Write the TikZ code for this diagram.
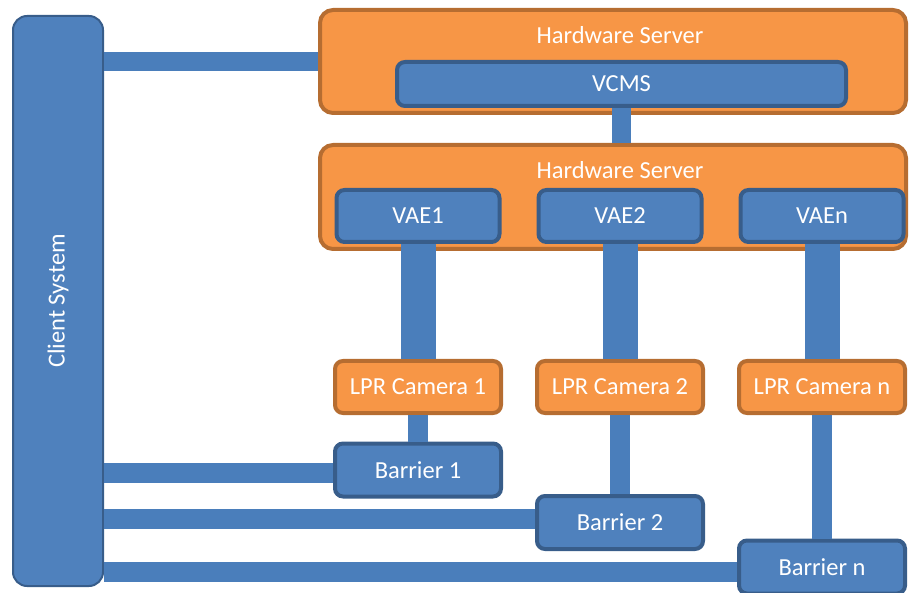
\documentclass[tikz,border=0pt]{standalone}
\usepackage{fontspec}
\setmainfont{Carlito}
\usetikzlibrary{calc}

\definecolor{boxblue}{HTML}{4F81BD}
\definecolor{blueline}{HTML}{385D8A}
\definecolor{wireblue}{HTML}{4A7EBB}
\definecolor{boxorange}{HTML}{F79646}
\definecolor{orangeline}{HTML}{B66D31}

\tikzset{
  box/.style={draw=blueline, fill=boxblue, line width=4pt, rounded corners=8pt,
    text=white, inner sep=0pt, font=\fontsize{24.5}{28}\selectfont},
  obox/.style={box, draw=orangeline, fill=boxorange},
  server/.style={obox, rounded corners=13pt, minimum width=586pt, minimum height=103pt},
  vae/.style={box, minimum width=163pt, minimum height=52pt},
  cam/.style={obox, minimum width=166pt, minimum height=52pt},
  barrier/.style={box, minimum width=166pt, minimum height=53pt},
  stitle/.style={text=white, font=\fontsize{24.5}{28}\selectfont},
  wire/.style={draw=wireblue, line width=#1},
  wire/.default=20pt
}

\begin{document}
\begin{tikzpicture}[x=1pt,y=-1pt]
\useasboundingbox (0,0) rectangle (910,593);

\node[box, line width=2pt, rounded corners=14pt, minimum width=90pt, minimum height=570pt]
  (client) at (58,301) {\rotatebox{90}{Client System}};

\node[server] (hs1) at (613,61.5) {};
\node[stitle] (hs1t) at (620,35) {Hardware Server};
\node[box, minimum width=449pt, minimum height=44pt] (vcms) at (621.5,84) {VCMS};

\node[server, minimum height=104pt] (hs2) at (613,197) {};
\node[stitle] (hs2t) at (620,170) {Hardware Server};
\node[vae] (vae1) at (418,216) {VAE1};
\node[vae] (vae2) at (620,216) {VAE2};
\node[vae] (vaen) at (822,216) {VAEn};

\node[cam] (cam1) at (418,387) {LPR Camera 1};
\node[cam] (cam2) at (620,387) {LPR Camera 2};
\node[cam] (camn) at (822,387) {LPR Camera n};

\node[barrier] (b1) at (418,470) {Barrier 1};
\node[barrier] (b2) at (620,522.5) {Barrier 2};
\node[barrier] (bn) at (822,567) {Barrier n};

\draw[wire=19pt] (client.east |- hs1.west) -- (hs1.west);
\draw[wire=19pt] (vcms.south) -- (vcms.south |- hs2.north);
\draw[wire=35pt] (vae1.south) -- (cam1.north);
\draw[wire=35pt] (vae2.south) -- (cam2.north);
\draw[wire=35pt] (vaen.south) -- (camn.north);
\draw[wire] (cam1.south) -- (b1.north);
\draw[wire] (cam2.south) -- (b2.north);
\draw[wire] (camn.south) -- (bn.north);
\draw[wire] ($(client.east |- b1.west)+(0,3)$) -- ($(b1.west)+(0,3)$);
\draw[wire] ($(client.east |- b2.west)+(0,-4)$) -- ($(b2.west)+(0,-4)$);
\draw[wire] ($(client.east |- bn.west)+(0,5)$) -- ($(bn.west)+(0,5)$);
\end{tikzpicture}
\end{document}
